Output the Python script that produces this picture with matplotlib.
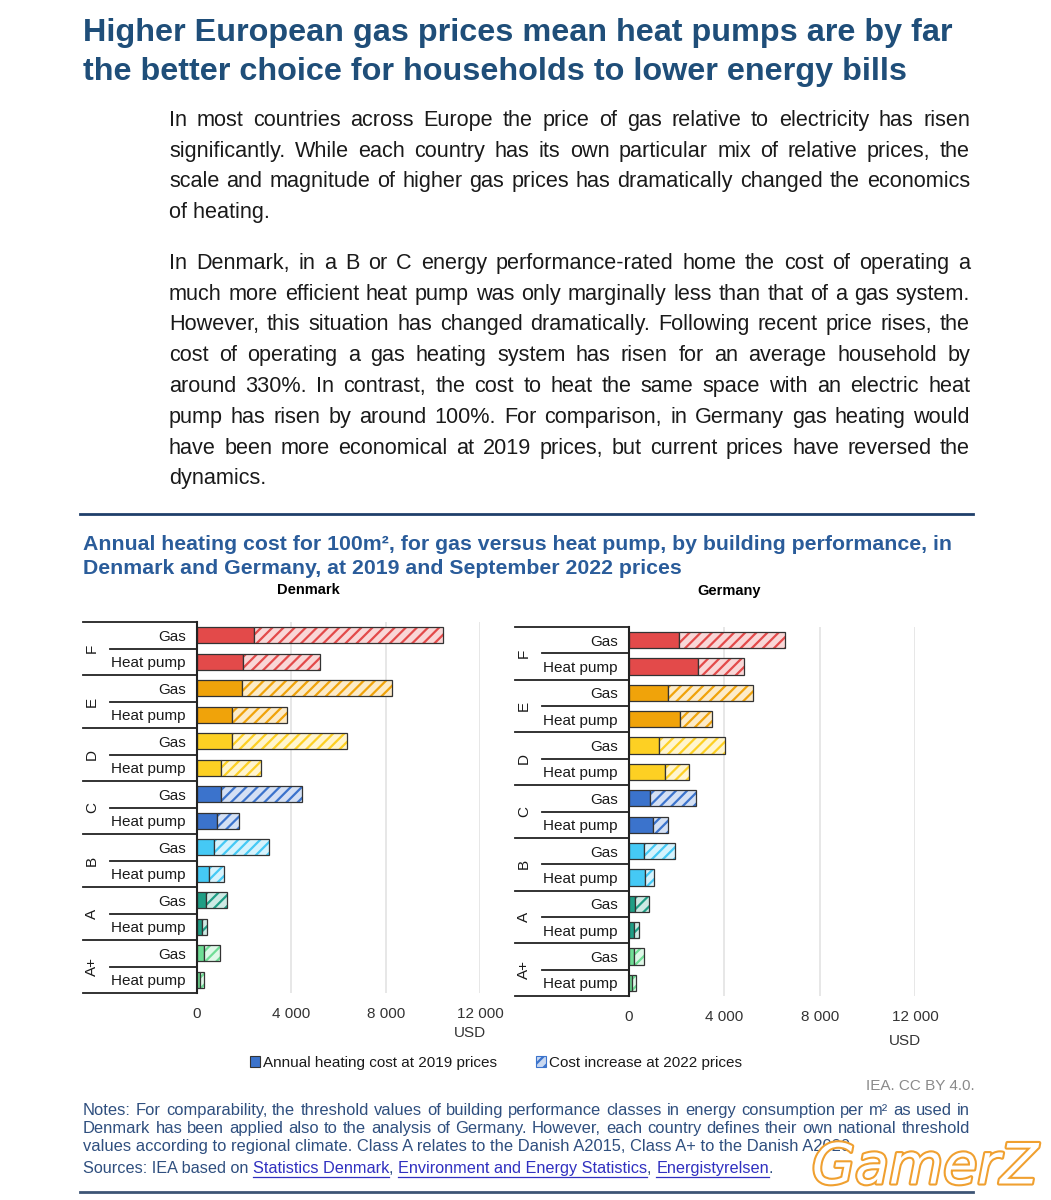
import matplotlib
matplotlib.use("Agg")
import matplotlib.pyplot as plt
import matplotlib.patheffects as pe
from matplotlib.patches import Patch
import numpy as np

W, H = 1051, 1200
plt.rcParams['font.family'] = ['Liberation Sans', 'DejaVu Sans']
plt.rcParams['hatch.linewidth'] = 1.6

# ---- data (USD per year) ----
classes = ['F', 'E', 'D', 'C', 'B', 'A', 'A+']
dk_gas_2019 = [2400, 1920, 1480, 1020, 710, 370, 280]
dk_gas_inc = [8030, 6350, 4900, 3440, 2360, 910, 690]
dk_hp_2019 = [1960, 1470, 1020, 830, 510, 230, 110]
dk_hp_inc = [3250, 2340, 1680, 950, 630, 200, 200]
de_gas_2019 = [2080, 1630, 1260, 890, 630, 270, 200]
de_gas_inc = [4470, 3570, 2760, 1930, 1310, 550, 410]
de_hp_2019 = [2910, 2130, 1510, 1000, 660, 200, 110]
de_hp_inc = [1900, 1370, 1000, 650, 400, 200, 200]
class_colors = ['#e34a4a', '#f0a30a', '#fdd023', '#3b73cc', '#45c9f5', '#1f9e85', '#6fdd95']
xticks = [0, 4000, 8000, 12000]
xtick_labels = ['0', '4 000', '8 000', '12 000']

title = ["Higher European gas prices mean heat pumps are by far",
         "the better choice for households to lower energy bills"]
para1 = ["In most countries across Europe the price of gas relative to electricity has risen",
         "significantly. While each country has its own particular mix of relative prices, the",
         "scale and magnitude of higher gas prices has dramatically changed the economics",
         "of heating."]
para2 = ["In Denmark, in a B or C energy performance-rated home the cost of operating a",
         "much more efficient heat pump was only marginally less than that of a gas system.",
         "However, this situation has changed dramatically. Following recent price rises, the",
         "cost of operating a gas heating system has risen for an average household by",
         "around 330%. In contrast, the cost to heat the same space with an electric heat",
         "pump has risen by around 100%. For comparison, in Germany gas heating would",
         "have been more economical at 2019 prices, but current prices have reversed the",
         "dynamics."]
chart_title = ["Annual heating cost for 100m², for gas versus heat pump, by building performance, in",
               "Denmark and Germany, at 2019 and September 2022 prices"]
notes = ["Notes: For comparability, the threshold values of building performance classes in energy consumption per m² as used in",
         "Denmark has been applied also to the analysis of Germany. However, each country defines their own national threshold",
         "values according to regional climate. Class A relates to the Danish A2015, Class A+ to the Danish A2020."]

NARROW = ['Liberation Sans Narrow', 'Liberation Sans', 'DejaVu Sans']

fig = plt.figure(figsize=(W / 100, H / 100), dpi=100)
renderer = fig.canvas.get_renderer()


def fx(x):
    return x / W


def fy(y):
    return 1 - y / H


def width_of(s, **kw):
    t = fig.text(0, 0, s, **kw)
    w = t.get_window_extent(renderer).width
    t.remove()
    return w


def justified(lines, x0, x1, y0, dy, ragged_last=True, **kw):
    # y0 is the visual middle of the first line; words sit on a common baseline
    drop = 0.36 * kw['fontsize'] * 100 / 72
    for k, line in enumerate(lines):
        y = y0 + k * dy + drop
        if ragged_last and k == len(lines) - 1:
            fig.text(fx(x0), fy(y), line, va='baseline', ha='left', **kw)
            continue
        words = line.split()
        ws = [width_of(w, **kw) for w in words]
        gap = max((x1 - x0 - sum(ws)) / (len(words) - 1), 2.0)
        x = x0
        for w, wd in zip(words, ws):
            fig.text(fx(x), fy(y), w, va='baseline', ha='left', **kw)
            x += wd + gap


# ---- headline and body text ----
for k, line in enumerate(title):
    fig.text(fx(83), fy(33 + k * 39), line, fontsize=23.3, fontweight='bold',
             color='#1f4e79', va='center')
justified(para1, 169, 970, 118, 30.8, fontsize=15.6, color='#1a1a1a')
justified(para2, 169, 970, 261, 30.8, fontsize=15.6, color='#1a1a1a')

fig.add_artist(plt.Line2D([fx(80), fx(973)], [fy(514), fy(514)], color='#1f3f6a', lw=2))

for k, line in enumerate(chart_title):
    fig.text(fx(83), fy(545 + k * 24), line, fontsize=15.3, fontweight='bold',
             color='#2a5c9a', va='center', family=NARROW)


def draw_panel(rect, name, name_xy, gas_2019, gas_inc, hp_2019, hp_inc, lab_left, usd_y):
    left, top, right, bottom = rect
    ax = fig.add_axes([fx(left), fy(bottom), fx(right - left), (bottom - top) / H])
    n = len(classes)
    ypos = np.arange(2 * n)[::-1]
    base, inc, cols = [], [], []
    for i in range(n):
        base += [gas_2019[i], hp_2019[i]]
        inc += [gas_inc[i], hp_inc[i]]
        cols += [class_colors[i], class_colors[i]]
    base = np.array(base)
    inc = np.array(inc)
    tints = [tuple(0.22 * np.array(matplotlib.colors.to_rgb(c)) + 0.78) for c in cols]
    h = 0.62
    ax.barh(ypos, base, height=h, color=cols, edgecolor='#333333', lw=0.9, zorder=3)
    ax.barh(ypos, inc, left=base, height=h, color=tints, edgecolor=cols, hatch='///',
            lw=0, zorder=3)
    ax.barh(ypos, inc, left=base, height=h, color='none', edgecolor='#333333', lw=0.9,
            zorder=4)
    ax.set_xlim(0, 12000)
    ax.set_ylim(-0.5, 2 * n - 0.5)
    ax.set_xticks(xticks)
    ax.set_xticklabels(xtick_labels, fontsize=11, color='#333333')
    ax.tick_params(axis='x', length=0, pad=10)
    ax.set_yticks(ypos)
    ax.set_yticklabels(['Gas', 'Heat pump'] * n, fontsize=11, color='#1a1a1a')
    ax.tick_params(axis='y', length=0, pad=8)
    ax.grid(axis='x', color='#e3e3e3', lw=1.2, zorder=0)
    for s in ['top', 'right', 'bottom']:
        ax.spines[s].set_visible(False)
    ax.spines['left'].set_color('#222222')
    ax.spines['left'].set_linewidth(1.5)
    ax.spines['left'].set_zorder(5)
    span = right - left
    tr = ax.get_yaxis_transform()
    a_far = (lab_left - left) / span
    a_mid = (lab_left + 27 - left) / span
    for i in range(n):
        yb = 2 * n - 0.5 - 2 * i
        ax.plot([a_far, 0], [yb, yb], transform=tr, color='#222222', lw=1.3, clip_on=False)
        ax.plot([a_mid, 0], [yb - 1, yb - 1], transform=tr, color='#222222', lw=1.3,
                clip_on=False)
        ax.text((lab_left + 9 - left) / span, yb - 1, classes[i], transform=tr,
                rotation=90, ha='center', va='center', fontsize=11, color='#1a1a1a')
    ax.plot([a_far, 0], [-0.5, -0.5], transform=tr, color='#222222', lw=1.3, clip_on=False)
    fig.text(fx(name_xy[0]), fy(name_xy[1]), name, fontsize=10.5,
             fontweight='bold', ha='center', va='center')
    fig.text(fx(right - 10), fy(usd_y), 'USD', fontsize=11, color='#333333',
             ha='center', va='center')
    return ax


draw_panel((197, 622, 480, 993), 'Denmark', (308, 590), dk_gas_2019, dk_gas_inc,
           dk_hp_2019, dk_hp_inc, 83, 1033)
draw_panel((629, 627, 915, 996), 'Germany', (729, 591), de_gas_2019, de_gas_inc,
           de_hp_2019, de_hp_inc, 515, 1041)

handles = [Patch(facecolor='#3b73cc', edgecolor='#333333', lw=0.8),
           Patch(facecolor='#c9d8f0', edgecolor='#3b73cc', hatch='///', lw=0.8)]
fig.legend(handles, ['Annual heating cost at 2019 prices', 'Cost increase at 2022 prices'],
           loc='center', bbox_to_anchor=(fx(496), fy(1063)), ncol=2, frameon=False,
           fontsize=11, handlelength=0.7, handleheight=0.7, handletextpad=0.2,
           columnspacing=2.5, labelcolor='#1a1a1a')

fig.text(fx(975), fy(1086), 'IEA. CC BY 4.0.', fontsize=11, color='#8a8a8a',
         ha='right', va='center', family=NARROW)

justified(notes, 83, 970, 1109, 18.2, fontsize=11.85, color='#2f4f7f', family=NARROW)

# sources line with underlined links
parts = [('Sources: IEA based on ', False), ('Statistics Denmark', True), (', ', False),
         ('Environment and Energy Statistics', True), (', ', False),
         ('Energistyrelsen', True), ('.', False)]
x = 83
for s, link in parts:
    kw = dict(fontsize=11.7, family=NARROW, color='#3030c0' if link else '#2f4f7f')
    fig.text(fx(x), fy(1173), s, va='baseline', ha='left', **kw)
    wd = width_of(s, **kw)
    if link:
        fig.add_artist(plt.Line2D([fx(x), fx(x + wd)], [fy(1177), fy(1177)],
                                  color='#3030c0', lw=0.9))
    x += wd

fig.add_artist(plt.Line2D([fx(80), fx(973)], [fy(1192), fy(1192)], color='#3d5575', lw=2))

fig.text(fx(925), fy(1168), 'GamerZ', fontsize=40, style='italic', color='white',
         ha='center', va='center', family=['DejaVu Sans'],
         path_effects=[pe.withStroke(linewidth=3, foreground='#f0a030')])

fig.savefig('out.png', dpi=100)
